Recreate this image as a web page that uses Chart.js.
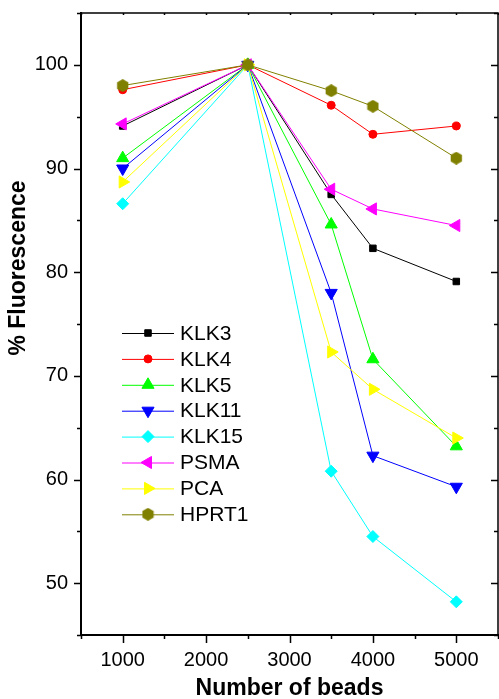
<!DOCTYPE html>
<html>
<head>
<meta charset="utf-8">
<script src="https://cdn.jsdelivr.net/npm/chart.js@4/dist/chart.umd.min.js"></script>
<style>
  html, body { margin: 0; padding: 0; background: #fff; }
  #wrap { width: 499px; height: 699px; }
</style>
</head>
<body>
<div id="wrap"><canvas id="chart" width="499" height="699"></canvas></div>
<script>
// data
const beads = [1000, 2500, 3500, 4000, 5000];
const klk3 = [94.1, 100, 87.5, 82.3, 79.1];
const klk4 = [97.6, 100, 96.1, 93.3, 94.1];
const klk5 = [91.0, 100, 84.6, 71.6, 63.2];
const klk11 = [90.0, 100, 78.0, 62.3, 59.3];
const klk15 = [86.6, 100, 60.8, 54.5, 48.2];
const psma = [94.3, 100, 88.0, 86.1, 84.5];
const pca = [88.7, 100, 72.3, 68.7, 64.0];
const hprt1 = [98.0, 100, 97.5, 96.0, 91.0];

const xTicks = [1000, 2000, 3000, 4000, 5000];
const xMinor = [500, 1500, 2500, 3500, 4500, 5500];
const yTicks = [50, 60, 70, 80, 90, 100];
const yMinor = [45, 55, 65, 75, 85, 95, 105];

const FONT = "'Liberation Sans', Arial, Helvetica, sans-serif";

// hexagon marker for HPRT1
function hexagon(color, size) {
  const c = document.createElement("canvas");
  c.width = size;
  c.height = size;
  const g = c.getContext("2d");
  const r = size / 2;
  g.beginPath();
  for (let i = 0; i < 6; i++) {
    const a = Math.PI / 3 * i - Math.PI / 2;
    const px = r + Math.cos(a) * r;
    const py = r + Math.sin(a) * r;
    if (i === 0) g.moveTo(px, py); else g.lineTo(px, py);
  }
  g.closePath();
  g.fillStyle = color;
  g.fill();
  return c;
}

function series(label, values, color, style, radius, rotation, order) {
  return {
    label: label,
    data: values.map((v, i) => ({ x: beads[i], y: v })),
    borderColor: color,
    backgroundColor: color,
    borderWidth: 1,
    pointStyle: style,
    pointRadius: radius,
    pointHoverRadius: radius,
    pointRotation: rotation,
    pointBackgroundColor: color,
    pointBorderColor: color,
    pointBorderWidth: 1,
    tension: 0,
    order: order,
  };
}

const datasets = [
  series("KLK3", klk3, "#000000", "rect", 4.6, 0, 7),
  series("KLK4", klk4, "#ff0000", "circle", 4, 0, 6),
  series("KLK5", klk5, "#00ff00", "triangle", 7, 0, 5),
  series("KLK11", klk11, "#0000ff", "triangle", 7, 180, 4),
  series("KLK15", klk15, "#00ffff", "rectRot", 6, 0, 3),
  series("PSMA", psma, "#ff00ff", "triangle", 7, 270, 2),
  series("PCA", pca, "#ffff00", "triangle", 7, 90, 1),
  series("HPRT1", hprt1, "#808000", hexagon("#808000", 13), 6, 0, 0),
];

function noPadding(scale) {
  scale.paddingTop = 0;
  scale.paddingBottom = 0;
  scale.paddingLeft = 0;
  scale.paddingRight = 0;
}

// axis box, tick marks, titles and legend
const decorations = {
  id: "decorations",
  afterDraw(chart) {
    const ctx = chart.ctx;
    const a = chart.chartArea;
    const xs = chart.scales.x;
    const ys = chart.scales.y;
    ctx.save();
    ctx.strokeStyle = "#000";

    ctx.lineWidth = 1.5;
    ctx.beginPath();
    ctx.moveTo(a.left, a.top);
    ctx.lineTo(a.right, a.top);
    ctx.lineTo(a.right, a.bottom);
    ctx.stroke();
    ctx.lineWidth = 2;
    ctx.beginPath();
    ctx.moveTo(a.left, a.top - 1);
    ctx.lineTo(a.left, a.bottom);
    ctx.lineTo(a.right + 1, a.bottom);
    ctx.stroke();

    ctx.lineWidth = 1.5;
    ctx.beginPath();
    yTicks.forEach((v) => {
      const p = Math.round(ys.getPixelForValue(v)) + 0.5;
      ctx.moveTo(a.left - 7, p); ctx.lineTo(a.left, p);
      ctx.moveTo(a.right - 7, p); ctx.lineTo(a.right, p);
    });
    yMinor.forEach((v) => {
      const p = Math.round(ys.getPixelForValue(v)) + 0.5;
      ctx.moveTo(a.left - 4, p); ctx.lineTo(a.left, p);
      ctx.moveTo(a.right - 4, p); ctx.lineTo(a.right, p);
    });
    xTicks.forEach((v) => {
      const p = Math.round(xs.getPixelForValue(v)) + 0.5;
      ctx.moveTo(p, a.bottom); ctx.lineTo(p, a.bottom + 8);
      ctx.moveTo(p, a.top); ctx.lineTo(p, a.top + 2);
    });
    xMinor.forEach((v) => {
      const p = Math.round(xs.getPixelForValue(v)) + 0.5;
      ctx.moveTo(p, a.bottom); ctx.lineTo(p, a.bottom + 4);
      ctx.moveTo(p, a.top); ctx.lineTo(p, a.top + 2);
    });
    ctx.stroke();

    // axis titles
    ctx.fillStyle = "#000";
    ctx.font = "bold 23px " + FONT;
    ctx.textAlign = "center";
    ctx.textBaseline = "middle";
    ctx.fillText("Number of beads", (a.left + a.right) / 2, a.bottom + 54);
    ctx.save();
    ctx.translate(19, a.top + 255);
    ctx.rotate(-Math.PI / 2);
    ctx.fillText("% Fluorescence", 0, 0);
    ctx.restore();

    // legend
    ctx.font = "21px " + FONT;
    ctx.textAlign = "left";
    chart.data.datasets.forEach((ds, i) => {
      const y = a.top + 320 + i * 25.9;
      const x0 = a.left + 41;
      ctx.strokeStyle = ds.borderColor;
      ctx.lineWidth = 1;
      ctx.beginPath();
      ctx.moveTo(x0, y + 0.5);
      ctx.lineTo(x0 + 52, y + 0.5);
      ctx.stroke();
      ctx.fillStyle = ds.pointBackgroundColor;
      ctx.strokeStyle = ds.pointBorderColor;
      Chart.helpers.drawPoint(ctx, {
        pointStyle: ds.pointStyle,
        radius: ds.pointRadius,
        rotation: ds.pointRotation,
        borderWidth: 1,
      }, x0 + 26, y);
      ctx.fillStyle = "#000";
      ctx.fillText(ds.label, x0 + 58, y + 1);
    });
    ctx.restore();
  },
};

new Chart(document.getElementById("chart"), {
  type: "line",
  data: { datasets: datasets },
  options: {
    responsive: false,
    animation: false,
    layout: { autoPadding: false, padding: { left: 0, top: 13, right: 1, bottom: 0 } },
    plugins: {
      legend: { display: false },
      tooltip: { enabled: false },
    },
    scales: {
      x: {
        type: "linear",
        min: 500,
        max: 5500,
        afterFit: (scale) => { scale.height = 64; noPadding(scale); },
        afterBuildTicks: (scale) => { scale.ticks = xTicks.map((v) => ({ value: v })); },
        grid: { display: false, drawTicks: false },
        border: { display: false },
        ticks: {
          padding: 13,
          color: "#000",
          maxRotation: 0,
          autoSkip: false,
          callback: (v) => String(v),
          font: { family: FONT, size: 20 },
        },
      },
      y: {
        min: 45,
        max: 105,
        afterFit: (scale) => { scale.width = 81; noPadding(scale); },
        afterBuildTicks: (scale) => { scale.ticks = yTicks.map((v) => ({ value: v })); },
        grid: { display: false, drawTicks: false },
        border: { display: false },
        ticks: {
          padding: 13,
          color: "#000",
          callback: (v) => String(v),
          font: { family: FONT, size: 20 },
        },
      },
    },
  },
  plugins: [decorations],
});
</script>
</body>
</html>
